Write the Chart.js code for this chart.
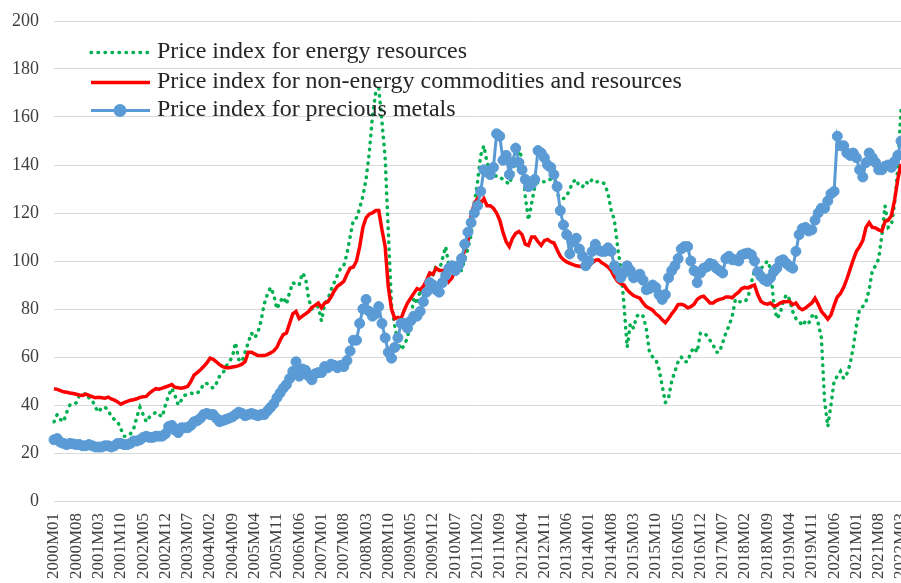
<!DOCTYPE html>
<html>
<head>
<meta charset="utf-8">
<script src="https://cdn.jsdelivr.net/npm/chart.js@4/dist/chart.umd.min.js"></script>
<style>
  html, body { margin: 0; padding: 0; background: #fff; overflow: hidden; }
  #wrap { width: 901px; height: 583px; overflow: hidden; }
</style>
</head>
<body>
<div id="wrap"><canvas id="chart" width="907" height="583"></canvas></div>
<script>
// monthly categories 2000M01 .. 2022M03
const months = [];
for (let y = 2000; y <= 2022; y++) {
  for (let m = 1; m <= 12; m++) {
    if (y === 2022 && m > 3) break;
    months.push(y + 'M' + String(m).padStart(2, '0'));
  }
}

// Price index for energy resources
const energy = [
  33, 36, 34, 33, 37, 40, 40, 41, 44, 44, 45, 43,          // 2000
  42, 39, 37, 39, 39, 38, 35, 34, 33, 30, 27, 27,          // 2001
  28, 30, 35, 39, 36, 33, 35, 36, 37, 36, 35, 40,          // 2002
  44, 47, 44, 40, 42, 44, 44.5, 45, 44.5, 45, 46, 49,      // 2003
  49, 48, 47, 49, 52, 53, 56, 58, 60, 66, 59, 58,          // 2004
  62, 66, 70, 68, 70, 75, 82, 86, 89, 86, 80, 83,          // 2005
  85, 82, 87, 91, 90, 90, 95, 93, 84, 80, 80, 81,          // 2006
  75, 82, 84, 88, 91, 94, 97, 98, 103, 110, 117, 118,      // 2007
  122, 127, 134, 145, 160, 170, 172, 158, 143, 112, 82, 73, // 2008
  66, 63, 65, 68, 75, 85, 82, 88, 85, 91, 95, 94,          // 2009
  98, 96, 101, 106, 98, 95, 95, 96, 96, 101, 105, 111,     // 2010
  124, 133, 144, 148, 141, 138, 137, 135, 135, 134, 133, 132, // 2011
  136, 143, 146, 143, 127, 117, 124, 131, 133, 133, 133, 134, // 2012
  134, 136, 128, 126, 126, 127, 130, 133, 134, 131, 131, 133, // 2013
  132, 134, 133, 133, 133, 132, 128, 121, 117, 106, 97, 82,   // 2014
  64, 74, 72, 77, 78, 77, 72, 62, 60, 59, 55, 48,          // 2015
  41, 43, 50, 54, 58, 60, 58, 58, 62, 64, 62, 70,          // 2016
  70, 69, 67, 65, 62, 62, 66, 70, 73, 77, 84, 83,          // 2017
  83, 83, 85, 91, 96, 95, 97, 98, 100, 97, 83, 76,         // 2018
  78, 83, 86, 84, 79, 76, 75, 73, 75, 74, 77, 78,          // 2019
  74, 68, 42, 31, 40, 50, 52, 54, 51, 53, 57, 64,          // 2020
  73, 80, 81, 83, 88, 96, 98, 101, 111, 123, 114, 115,     // 2021
  124, 139, 163                                            // 2022
];

// Price index for non-energy commodities and resources
const nonEnergy = [
  46.8, 46.5, 46, 45.5, 45.3, 45, 44.8, 44.5, 44.2, 44, 44.5, 44,
  43.5, 43, 43.2, 43, 42.8, 43.3, 42.5, 42, 41.3, 40.3, 41, 41.5,
  42, 42.2, 42.6, 43.2, 43.4, 43.6, 45, 46, 46.8, 46.6, 47, 47.5,
  48, 48.5, 47.4, 47.2, 47, 47.3, 47.8, 49.8, 52.5, 53.5, 54.7, 56,
  57.5, 59.5, 59, 58, 56.8, 56, 55.5, 55.5, 55.8, 56, 56.4, 57,
  58, 62, 62, 61.3, 60.6, 60.6, 60.6, 61, 61.7, 62.5, 64, 67,
  69.3, 70, 74, 78, 79, 76, 77, 78, 79, 80.7, 81.5, 82.5,
  80.5, 82.5, 83, 85, 87.5, 89.5, 90.4, 91.5, 94.5, 97, 97.5, 100,
  106, 114, 118, 119.5, 120, 121, 121, 113, 106, 89, 80, 76,
  76.5, 76, 79.5, 82.5, 84.5, 86.5, 88.5, 88, 89.5, 92, 95, 94.5,
  97, 96, 96, 96, 91.5, 93, 96, 99, 100, 105, 108, 119,
  124, 126, 124, 126, 123, 123, 122, 120, 117, 112, 108, 106,
  109.5, 111.5, 112.3, 111, 107, 106.5, 110, 110, 108, 106.5, 108.5, 109,
  108, 107.5, 104.7, 102, 100.5, 99.6, 99, 98.5, 98, 97.8, 97.6, 97.4,
  97.8, 99.2, 100.3, 100.5, 99.3, 98.5, 97.5, 96, 93.5, 91.5, 90.5, 90,
  88, 86.7, 85.6, 85, 84.5, 82.5, 81, 80.3, 79.5, 78, 77, 75.5,
  74.3, 76, 78, 79.7, 81.8, 82, 81.5, 80.5, 81, 82, 84, 85,
  85.3, 84, 82.5, 82.5, 83.5, 84, 84.3, 85, 85, 84.7, 86, 87,
  88.5, 89, 88.8, 89.5, 90, 86, 83.2, 82.3, 82, 82.5, 81.3, 81.5,
  82.5, 83, 83, 83.2, 81.8, 82.5, 80.5, 79.7, 80.4, 81.5, 82.5, 84.5,
  82, 79, 77.5, 75.8, 77.5, 81.5, 85, 86.5, 89, 92.5, 96.5, 100.5,
  104, 106, 108.5, 114, 116, 114, 113.8, 113, 112.5, 116.5, 117, 119,
  125.5, 134, 140.5
];

// Price index for precious metals
const precious = [
  25.5, 26, 24.5, 24, 23.5, 24, 23.8, 23.5, 23.5, 23, 23, 23.5,
  23, 22.5, 22.5, 22.5, 23, 23, 22.5, 23, 24, 24, 23.5, 23.5,
  24, 25, 25, 25.5, 26.5, 27, 26.5, 26.5, 27, 27, 27, 28,
  31, 31.5, 29.5, 28.5, 30.5, 30.5, 30.5, 31.5, 33, 33.5, 34.5, 36,
  36.5, 36, 36, 34.5, 33, 33.5, 34, 34.5, 35, 36, 37, 36.5,
  35.5, 36, 36.5, 36, 35.5, 36, 36, 37.5, 39, 40.5, 43, 45,
  47, 48.5, 51, 54, 58, 52, 55, 54.5, 52, 50.5, 53, 53.5,
  53.5, 56, 55.5, 57, 56.5, 55.5, 56.5, 56, 58.5, 62.5, 67, 67,
  74, 80, 84, 79, 77, 78, 81, 74, 68, 62, 59.5, 64,
  68, 74, 74, 72, 75, 77, 77, 79, 83, 87, 91, 90,
  88, 87, 91, 94, 97, 98, 96, 98, 101, 107, 112, 116,
  120, 123, 129, 138, 137, 136, 139, 153, 152, 142, 144, 136,
  141, 147, 141, 138, 134, 131, 132, 134, 146, 145, 143, 140,
  139, 136, 131, 121, 115, 111, 103, 108, 109.5, 105, 102, 98,
  100, 104, 107, 104.5, 104, 104, 105.5, 104, 98, 96, 93, 95,
  98, 96, 93, 93.5, 94.5, 92, 88, 88.5, 90, 89, 86, 84,
  86, 93, 96, 98, 101, 105, 106, 106, 100, 96, 91, 95,
  97, 97.5, 99, 98.5, 97, 96, 95, 101, 102, 100.5, 100.5, 100,
  102.5, 103, 103.3, 102.6, 100, 95.5, 93.6, 92.2, 91.5, 93, 95.5, 97,
  100, 100.5, 99, 97.8, 97, 104, 111, 113.5, 114, 112.5, 113, 117,
  120, 122, 122, 125, 128, 129, 152, 148, 148, 145, 144, 145,
  143, 138, 135, 141, 145, 143, 141, 138, 138, 139.5, 140, 139,
  141.5, 144, 150
];

const serif = '"Times New Roman", "Liberation Serif", serif';

// legend drawn inside the plot, top left, no box
const insideLegend = {
  id: 'insideLegend',
  afterDatasetsDraw(chart) {
    const c = chart.ctx;
    const baselines = [58, 88, 116];
    chart.data.datasets.forEach((ds, k) => {
      const yb = baselines[k];
      const ym = yb - 5.5;
      c.save();
      c.strokeStyle = ds.borderColor;
      c.lineWidth = ds.borderWidth;
      c.lineCap = ds.borderCapStyle || 'butt';
      c.setLineDash(ds.borderDash || []);
      c.beginPath();
      c.moveTo(91, ym);
      c.lineTo(150, ym);
      c.stroke();
      if (ds.pointRadius) {
        c.setLineDash([]);
        c.fillStyle = ds.backgroundColor;
        c.beginPath();
        c.arc(120, ym, ds.pointRadius + 1.5, 0, Math.PI * 2);
        c.fill();
      }
      c.fillStyle = '#262626';
      c.font = '24px ' + serif;
      c.textBaseline = 'alphabetic';
      c.fillText(ds.label, 157, yb);
      c.restore();
    });
  }
};

new Chart(document.getElementById('chart'), {
  type: 'line',
  data: {
    labels: months,
    datasets: [
      {
        label: 'Price index for energy resources',
        data: energy,
        borderColor: '#00b050',
        borderWidth: 3.5,
        borderDash: [0.5, 6.5],
        borderCapStyle: 'round',
        pointRadius: 0,
        tension: 0,
        order: 3
      },
      {
        label: 'Price index for non-energy commodities and resources',
        data: nonEnergy,
        borderColor: '#ff0000',
        borderWidth: 3.5,
        pointRadius: 0,
        tension: 0,
        order: 2
      },
      {
        label: 'Price index for precious metals',
        data: precious,
        borderColor: '#5b9bd5',
        backgroundColor: '#5b9bd5',
        borderWidth: 3,
        pointRadius: 5,
        pointBorderWidth: 1,
        pointBorderColor: '#5b9bd5',
        pointBackgroundColor: '#5b9bd5',
        tension: 0,
        order: 1
      }
    ]
  },
  options: {
    responsive: false,
    animation: false,
    layout: { padding: { left: 0, top: 21, right: 0, bottom: 4 } },
    plugins: {
      legend: { display: false },
      tooltip: { enabled: false }
    },
    scales: {
      x: {
        offset: false,
        grid: { display: false, drawTicks: false },
        border: { display: false },
        afterFit(scale) { scale.paddingRight = 0; scale.paddingLeft = 0; scale.height = 78; },
        ticks: {
          autoSkip: false,
          minRotation: 90,
          maxRotation: 90,
          padding: 12,
          color: '#404040',
          font: { family: serif, size: 17 },
          callback: function(v, i) { return i % 7 === 0 ? this.getLabelForValue(v) : null; }
        }
      },
      y: {
        min: 0,
        max: 200,
        afterFit(scale) { scale.width = 54; scale.paddingTop = 0; scale.paddingBottom = 0; },
        grid: { color: '#d9d9d9', lineWidth: 1, drawTicks: false },
        border: { display: false },
        ticks: {
          stepSize: 20,
          padding: 15,
          color: '#404040',
          font: { family: serif, size: 18 }
        }
      }
    }
  },
  plugins: [insideLegend]
});
</script>
</body>
</html>
